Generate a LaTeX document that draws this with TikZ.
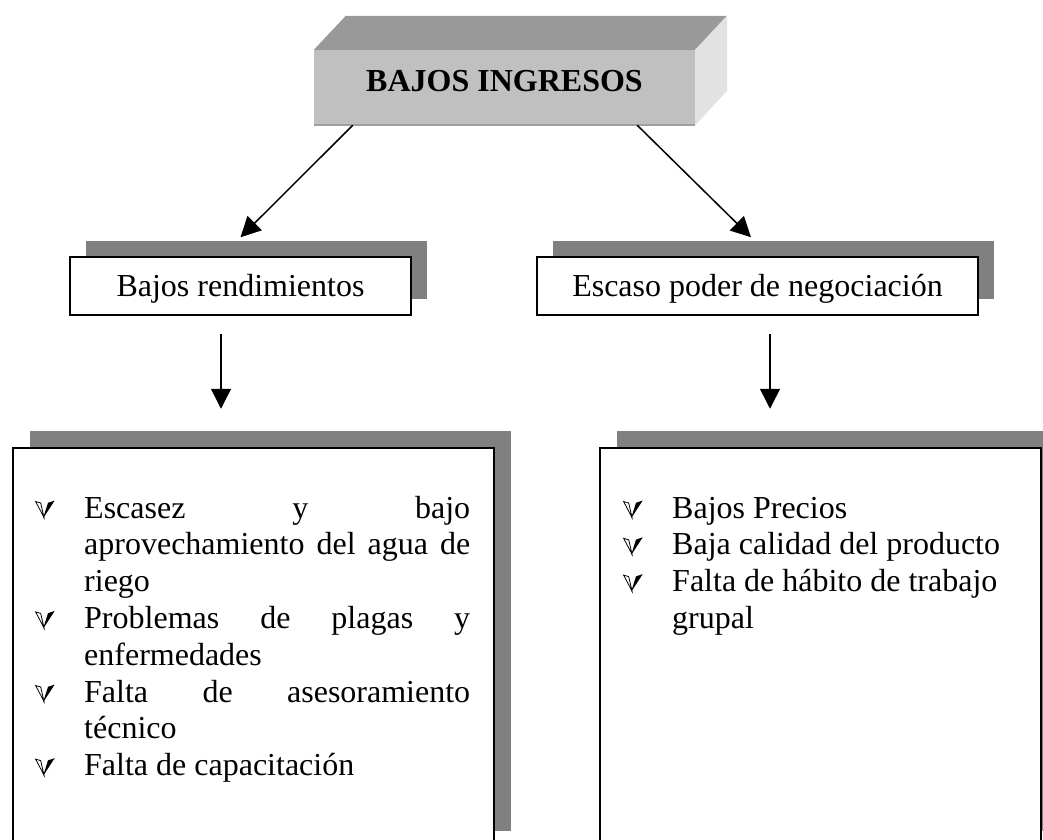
\documentclass[tikz,border=0pt]{standalone}
\usepackage{fontspec}
\setmainfont{Liberation Serif}
\usetikzlibrary{shadows,arrows.meta}

\definecolor{sombra}{HTML}{808080}
\definecolor{caratop}{HTML}{999999}
\definecolor{carafront}{HTML}{C0C0C0}
\definecolor{caralado}{HTML}{E2E2E2}
\definecolor{bordeinf}{HTML}{A0A0A0}

% check mark bullet
\newcommand{\chk}{\tikz[baseline=0pt,x=1pt,y=1pt]{\draw[line width=0.8pt,line join=miter] (0.4,16.5) -- (5.5,15) -- (8.8,0.6) -- cycle; \fill (7.8,-0.5) -- (19.5,17.5) -- (12.8,15.2) -- cycle;}}
\newcommand{\chkline}[2]{\makebox[49pt][l]{\chk}\makebox[#1][s]{#2}}
\newcommand{\chklast}[1]{\makebox[49pt][l]{\chk}#1}
\newcommand{\contline}[2]{\hspace*{49pt}\makebox[#1][s]{#2}}
\newcommand{\contlast}[1]{\hspace*{49pt}#1}

\begin{document}
\begin{tikzpicture}[x=1pt,y=-1pt]
\tikzstyle{cubo}=[rectangle,fill=carafront,minimum width=381pt,minimum height=75pt,inner sep=0pt,font=\fontsize{32}{36}\selectfont\bfseries,text height=22pt,text depth=15pt]
\tikzstyle{caja}=[rectangle,draw,line width=1.5pt,fill=white,inner sep=0pt,general shadow={fill=sombra,shadow xshift=#1,shadow yshift=#1}]
\tikzstyle{etiqueta}=[font=\fontsize{32}{36}\selectfont,text height=22pt,text depth=1pt]
\tikzstyle{lista}=[inner sep=0pt,anchor=base west,font=\fontsize{32}{36.8}\selectfont]
\tikzstyle{flecha}=[-{Triangle[length=20pt,width=20pt]},line width=1.5pt]

\useasboundingbox (0,0) rectangle (1043,839);
\clip (0,0) rectangle (1043,839);

% 3D title block
\node[cubo] (ingresos) at (504.5,87.5) {BAJOS INGRESOS};
\fill[caratop] (ingresos.north west) -- ++(32,-34) -- ++(381,0) -- (ingresos.north east) -- cycle;
\fill[caralado] (ingresos.north east) -- ++(32,-34) -- ++(0,75) -- (ingresos.south east) -- cycle;
\draw[bordeinf,line width=2pt] (ingresos.south west) -- (ingresos.south east);

\node[caja=16pt,etiqueta,minimum width=341pt,minimum height=58pt] (rend) at (240.5,286) {Bajos rendimientos};
\node[caja=16pt,etiqueta,minimum width=441pt,minimum height=58pt] (nego) at (757.5,286) {Escaso poder de negociación};

\node[caja=17pt,minimum width=481pt,minimum height=400pt,anchor=north west] (causasA) at (12,447) {};
\node[caja=17pt,minimum width=441pt,minimum height=400pt,anchor=north west] (causasB) at (599,447) {};

\node[lista] (listaA) at (35,518) {\parbox[t]{440pt}{%
\chkline{386pt}{Escasez y bajo}\\
\contline{386pt}{aprovechamiento del agua de}\\
\contlast{riego}\\
\chkline{386pt}{Problemas de plagas y}\\
\contlast{enfermedades}\\
\chkline{386pt}{Falta de asesoramiento}\\
\contlast{técnico}\\
\chklast{Falta de capacitación}}};

\node[lista] (listaB) at (623,518) {\parbox[t]{400pt}{%
\chklast{Bajos Precios}\\
\chklast{Baja calidad del producto}\\
\chklast{Falta de hábito de trabajo}\\
\contlast{grupal}}};

\draw[flecha] ([xshift=39pt]ingresos.south west) -- ([yshift=19pt]rend.north);
\draw[flecha] ([xshift=-58pt]ingresos.south east) -- ([xshift=-6.5pt,yshift=19pt]nego.north);
\draw[flecha] ([xshift=-19.5pt,yshift=-18pt]rend.south) -- ++(0,75);
\draw[flecha] ([xshift=12.5pt,yshift=-18pt]nego.south) -- ++(0,75);
\end{tikzpicture}
\end{document}
